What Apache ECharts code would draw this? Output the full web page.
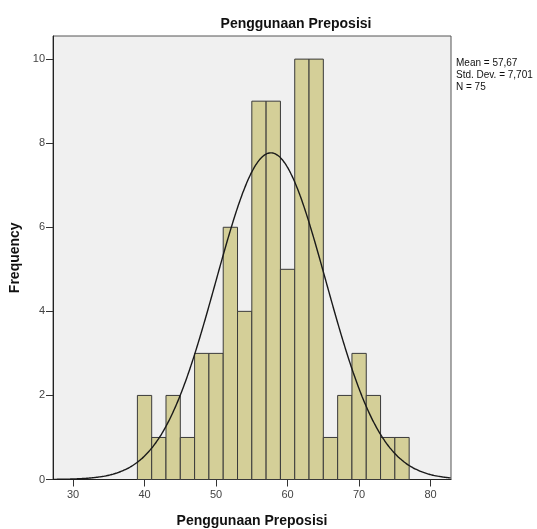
<!DOCTYPE html>
<html><head><meta charset="utf-8">
<script src="https://cdn.jsdelivr.net/npm/echarts@6/dist/echarts.min.js"></script>
<style>html,body{margin:0;padding:0;background:#fff}#c{width:537px;height:529px}</style>
</head><body><div id="c"></div>
<script>
// Histogram bins (start of each bin, width 2)
const binStarts = [39,41,43,45,47,49,51,53,55,57,59,61,63,65,67,69,71,73,75];
const binWidth = 2;
const frequencies = [2,1,2,1,3,3,6,4,9,9,5,10,10,1,2,3,2,1,1];
const xTicks = [30,40,50,60,70,80];
const yTicks = [0,2,4,6,8,10];
const mean = 57.67, stdDev = 7.701, nCount = 75;
const xMin = 27.2, xMax = 82.85, yMax = 10.55;

// fitted normal curve (from the stated mean / std. dev. / N)
const curve = [];
for (let x = xMin; x <= xMax + 1e-9; x += 0.2) {
  const z = (x - mean) / stdDev;
  curve.push([x, nCount * binWidth * Math.exp(-0.5 * z * z) / (stdDev * Math.sqrt(2 * Math.PI))]);
}
const barData = binStarts.map((s, i) => [s, s + binWidth, frequencies[i]]);

const chart = echarts.init(document.getElementById('c'));
const font = 'Liberation Sans, Arial, sans-serif';
chart.setOption({
  animation: false,
  title: {
    text: 'Penggunaan Preposisi', left: 291, top: 12, textAlign: 'center',
    textStyle: {fontFamily: font, fontSize: 14, fontWeight: 'bold', color: '#111'}
  },
  grid: {left: 53, right: 86, top: 36, bottom: 49.5, show: true, containLabel: false,
    outerBoundsMode: 'none',
    backgroundColor: '#f0f0f0', borderColor: '#555', borderWidth: 1},
  xAxis: {
    type: 'value', min: xMin, max: xMax,
    name: 'Penggunaan Preposisi', nameLocation: 'middle', nameGap: 35,
    nameTextStyle: {fontFamily: font, fontSize: 14, fontWeight: 'bold', color: '#111'},
    axisLine: {show: true, lineStyle: {color: '#222'}},
    axisTick: {show: true, length: 7, customValues: xTicks, lineStyle: {color: '#333'}},
    axisLabel: {customValues: xTicks, fontFamily: font, fontSize: 11, color: '#444', margin: 10},
    splitLine: {show: false}
  },
  yAxis: {
    type: 'value', min: 0, max: yMax,
    name: 'Frequency', nameLocation: 'middle', nameGap: 28, nameRotate: 90,
    nameTextStyle: {fontFamily: font, fontSize: 14, fontWeight: 'bold', color: '#111'},
    axisLine: {show: true, lineStyle: {color: '#222'}},
    axisTick: {show: true, length: 7, customValues: yTicks, lineStyle: {color: '#333'}},
    axisLabel: {customValues: yTicks, fontFamily: font, fontSize: 11, color: '#444', margin: 8},
    splitLine: {show: false}
  },
  series: [
    {
      type: 'custom',
      data: barData,
      encode: {x: [0, 1], y: 2},
      renderItem: function (params, api) {
        const p0 = api.coord([api.value(0), api.value(2)]);
        const p1 = api.coord([api.value(1), 0]);
        return {
          type: 'rect',
          shape: {x: p0[0], y: p0[1], width: p1[0] - p0[0], height: p1[1] - p0[1]},
          style: {fill: '#d4cf98', stroke: '#3a3a3a', lineWidth: 1}
        };
      }
    },
    {
      type: 'line', data: curve, showSymbol: false, smooth: true,
      lineStyle: {color: '#1a1a1a', width: 1.4}, z: 5
    }
  ],
  graphic: [{
    type: 'text', left: 456, top: 57,
    style: {text: 'Mean = 57,67\nStd. Dev. = 7,701\nN = 75', fontFamily: font, fontSize: 10,
      lineHeight: 12, fill: '#111'}
  }]
});
</script></body></html>
